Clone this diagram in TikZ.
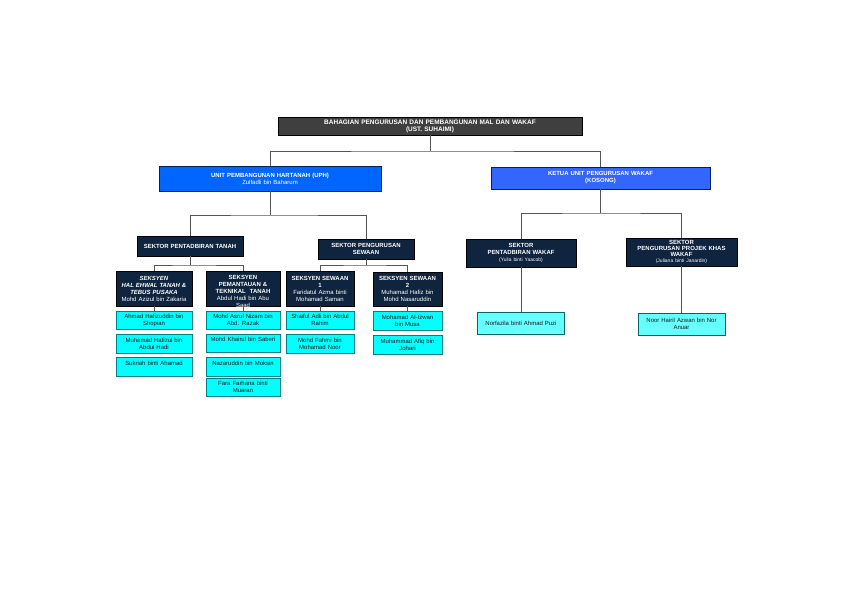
\documentclass[tikz,border=0pt]{standalone}
\usepackage{fontspec}
\setmainfont{Liberation Sans}
\definecolor{hdrgray}{HTML}{3F3F3F}
\definecolor{uphblue}{HTML}{0066FF}
\definecolor{ketblue}{HTML}{3366FF}
\definecolor{navyb}{HTML}{0F243E}
\definecolor{bordnavy}{HTML}{002060}
\definecolor{cyanf}{HTML}{00FFFF}
\definecolor{cyanl}{HTML}{66FFFF}
\definecolor{tealb}{HTML}{008080}
\definecolor{linegray}{HTML}{555555}
\begin{document}
\begin{tikzpicture}[x=1bp,y=-1bp,
  base/.style={draw, align=center, inner xsep=0pt, inner ysep=0pt, line width=0.8bp, font=\fontsize{6}{7}\selectfont},
  sz/.style 2 args={text width=#1bp, minimum height=#2bp},
  hdr/.style={base, fill=hdrgray, draw=black, text=white, font=\fontsize{6.5}{7}\selectfont\bfseries},
  unitA/.style={base, fill=uphblue, draw=bordnavy, text=white},
  unitB/.style={base, fill=ketblue, draw=bordnavy, text=white},
  sekt/.style={base, fill=navyb, draw=black, text=white},
  staff/.style={base, fill=cyanf, draw=tealb, text=black!90},
  staffl/.style={base, fill=cyanl, draw=tealb!80!black, text=black!90},
  conn/.style={draw=linegray, line width=0.75bp}]
\useasboundingbox (0,0) rectangle (842,595);
\fill[white] (0,0) rectangle (842,595);

% top level
\node[hdr, sz={304}{18}] (top) at (430,126) {BAHAGIAN PENGURUSAN DAN PEMBANGUNAN MAL DAN WAKAF\\(UST. SUHAIMI)};

% units
\node[unitA, sz={222}{25}] (uph) at (270,178.5) {\textbf{UNIT PEMBANGUNAN HARTANAH (UPH)}\\Zulfadli bin Baharum};
\node[unitB, sz={219}{22}] (ketua) at (600.5,178) {\textbf{KETUA UNIT PENGURUSAN WAKAF}\\\textbf{(KOSONG)}};

% sektor
\node[sekt, sz={106}{20}] (st) at (190,246) {\textbf{SEKTOR PENTADBIRAN TANAH}};
\node[sekt, sz={96}{20}] (ss) at (366,249) {\textbf{SEKTOR PENGURUSAN}\\\textbf{SEWAAN}};
\node[sekt, sz={110}{28}, font=\fontsize{6}{6.6}\selectfont] (sw) at (521,253) {\textbf{SEKTOR}\\\textbf{PENTADBIRAN WAKAF}\\{\fontsize{5}{6}\selectfont (Yulia binti Yaacob)}};
\node[sekt, sz={111}{28}, font=\fontsize{6}{6}\selectfont] (sp) at (681.5,252) {\textbf{SEKTOR}\\\textbf{PENGURUSAN PROJEK KHAS}\\\textbf{WAKAF}\\{\fontsize{5}{6}\selectfont (Juliana binti Janardin)}};

% seksyen
\node[sekt, sz={76}{35}] (hal) at (154,288.5) {\textbf{\textit{SEKSYEN}}\\\textbf{\textit{HAL EHWAL TANAH \&}}\\\textbf{\textit{TEBUS PUSAKA}}\\Mohd Azizul bin Zakaria};
\node[sekt, sz={74}{35}] (pem) at (243,288.5) {};
\node[base, draw=none, text=white, text width=74bp] (pemtext) at (243,291.5) {\textbf{SEKSYEN}\\\textbf{PEMANTAUAN \&}\\\textbf{TEKNIKAL\ \ TANAH}\\Abdul Hadi bin Abu\\Saad};
\node[sekt, sz={68}{35}] (sw1) at (320,288.5) {\textbf{SEKSYEN SEWAAN}\\\textbf{1}\\Faridatul Azma binti\\Mohamad Saman};
\node[sekt, sz={69}{34}] (sw2) at (407.5,289) {\textbf{SEKSYEN SEWAAN}\\\textbf{2}\\Muhamad Hafiz bin\\Mohd Nasaruddin};

% staff
\node[staff, sz={76}{18}] (a1) at (154,320) {Ahmad Hafizuddin bin\\Shopian};
\node[staff, sz={76}{19}] (a2) at (154,343.5) {Muhamad Hafizul bin\\Abdul Hadi};
\node[staff, sz={76}{19}] (a3) at (154,366.5) {Sukriah binti Ahamad\\\mbox{}};
\node[staff, sz={74}{18}] (b1) at (243,320) {Mohd Asrul Nizam bin\\Abd. Razak};
\node[staff, sz={74}{18}] (b2) at (243,343) {Mohd Khairul bin Saberi\\\mbox{}};
\node[staff, sz={74}{19}] (b3) at (243,366.5) {Nazaruddin bin Moksin\\\mbox{}};
\node[staff, sz={74}{18}] (b4) at (243,387) {Fara Farhana binti\\Muaran};
\node[staff, sz={68}{18}] (c1) at (320,320) {Shaiful Adli bin Abdul\\Rahim};
\node[staff, sz={68}{19}] (c2) at (320,343.5) {Mohd Fahmi bin\\Mohamad Noor};
\node[staff, sz={69}{19}] (d1) at (407.5,320.5) {Mohamad Al-Izwan\\bin Musa};
\node[staff, sz={69}{19}] (d2) at (407.5,344.5) {Muhammad Afiq bin\\Johari};
\node[staffl, sz={87}{22}] (nf) at (521,323) {Norfazila binti Ahmad Puzi};
\node[staffl, sz={87}{22}] (nh) at (681.5,324) {Noor Hairil Azwan bin Nor\\Anuar};

% junctions
\coordinate (j1) at (430,151);
\coordinate (j2) at (270,215);
\coordinate (j3) at (601,213);
\coordinate (j4) at (190,265);
\coordinate (j5) at (366,265);

% connectors
\draw[conn] (top.south) -- (top.south |- j1);
\draw[conn] (uph.north) |- (j1) -| (ketua.north);
\draw[conn] (uph.south) -- (uph.south |- j2);
\draw[conn] (st.north) |- (j2) -| (ss.north);
\draw[conn] (ketua.south) -- (ketua.south |- j3);
\draw[conn] (sw.north) |- (j3) -| (sp.north);
\draw[conn] (st.south) -- (st.south |- j4);
\draw[conn] (hal.north) |- (j4) -| (pem.north);
\draw[conn] (ss.south) -- (ss.south |- j5);
\draw[conn] (sw1.north) |- (j5) -| (sw2.north);
\draw[conn] (hal.south) -- (a1.north);
\draw[conn] (pem.south) -- (b1.north);
\draw[conn] (sw1.south) -- (c1.north);
\draw[conn] (sw2.south) -- (d1.north);
\draw[conn] (sw.south) -- (nf.north);
\draw[conn] (sp.south) -- (nh.north);
\end{tikzpicture}
\end{document}
